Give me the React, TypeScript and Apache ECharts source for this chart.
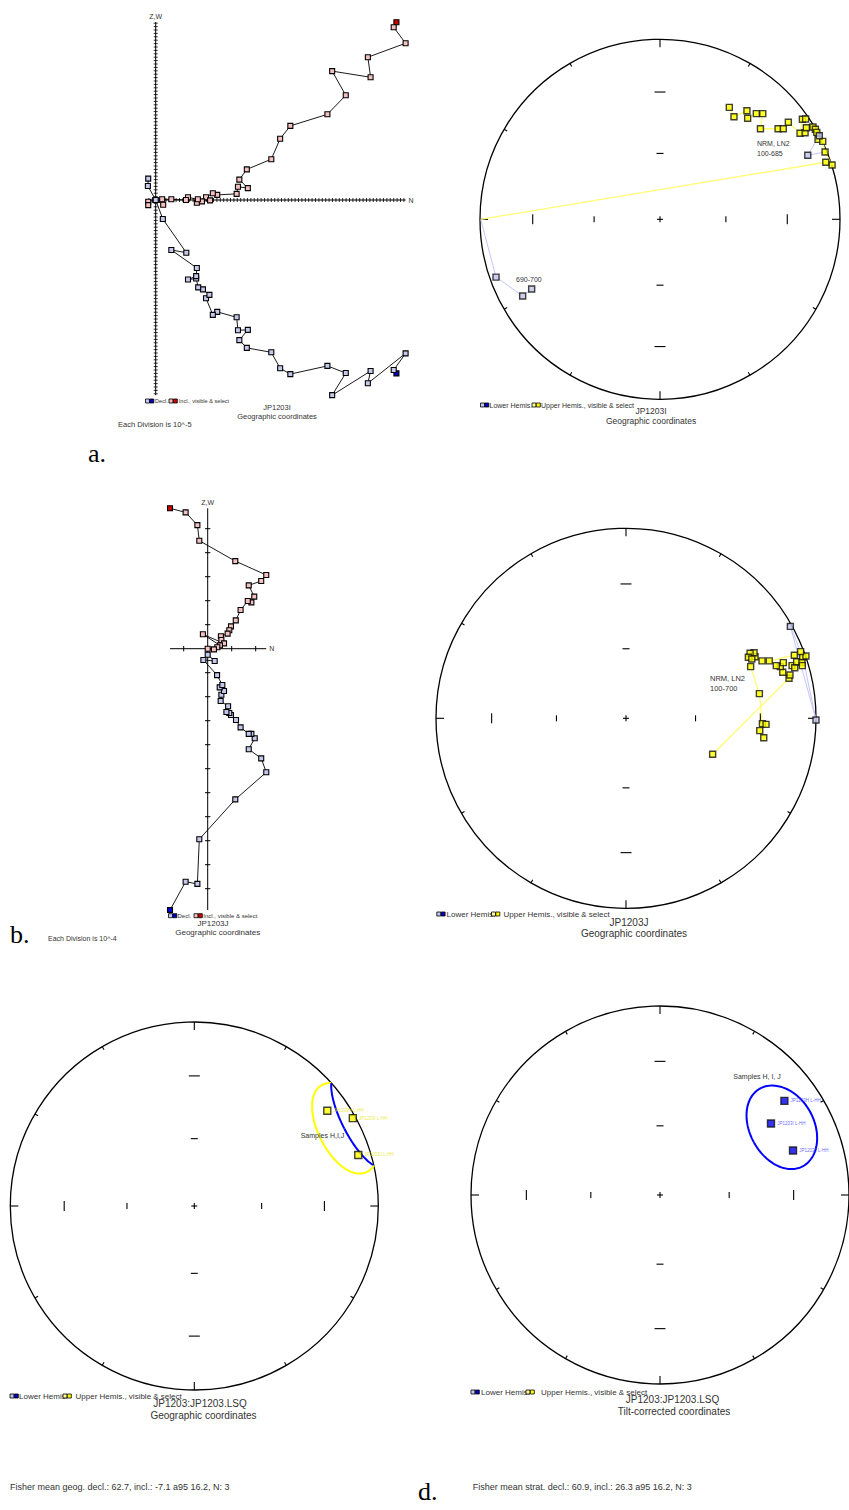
import React, { useEffect, useRef } from "react";
import * as echarts from "echarts";

// ---------- Panel a: Zijderveld (units = divisions of 1e-5) ----------
const ZA_INCL: number[][] = [
  [70.8, 52.3], [70.0, 50.8], [73.5, 46.1], [62.4, 42.0], [63.2, 36.1], [51.9, 37.9],
  [55.9, 30.8], [50.5, 25.2], [39.6, 21.8], [36.6, 18.0], [34.0, 12.0], [26.8, 9.0],
  [24.6, 6.0], [27.1, 3.5], [24.2, 3.9], [23.8, 1.8], [18.1, 1.5], [16.8, 2.0],
  [14.8, 0.8], [16.0, -0.1], [13.6, -0.4], [12.1, -0.8], [12.4, 0.2], [9.5, 0.8],
  [8.9, 0.0], [4.6, 0.2], [1.9, 0.2], [2.2, -1.4], [-0.1, 0.0], [-2.2, -0.5], [-2.2, -1.5],
];
const ZA_DECL: number[][] = [
  [70.8, -51.0], [70.0, -50.0], [73.5, -45.1], [62.4, -53.9], [63.2, -50.3], [51.9, -57.4],
  [55.9, -50.9], [50.5, -48.8], [39.6, -51.2], [36.6, -49.5], [34.0, -44.8], [26.8, -43.5],
  [24.6, -41.2], [27.1, -38.2], [24.2, -38.3], [23.8, -34.5], [18.1, -32.9], [16.8, -33.8],
  [14.8, -28.9], [15.8, -27.9], [13.9, -26.3], [12.5, -25.7], [11.9, -23.1], [9.5, -23.4],
  [11.9, -22.4], [12.1, -20.0], [4.6, -14.7], [9.0, -15.5], [2.1, -5.6], [0.0, 0.0],
  [-2.3, 4.1], [-2.2, 6.3],
];

// ---------- Panel b: Zijderveld (units = divisions of 1e-4) ----------
const ZB_INCL: number[][] = [
  [-1.57, 5.85], [-0.92, 5.68], [-0.43, 5.15], [-0.35, 4.5], [1.15, 3.65], [2.44, 3.07],
  [2.23, 2.82], [1.71, 2.64], [1.94, 2.17], [1.82, 1.93], [1.67, 1.99], [1.37, 1.61],
  [1.17, 1.18], [0.97, 0.93], [0.9, 0.77], [0.83, 0.63], [0.55, 0.52], [0.57, 0.36],
  [0.68, 0.22], [-0.2, 0.6], [0.51, 0.14], [0.4, 0.06], [0.26, -0.03], [0, 0],
];
const ZB_DECL: number[][] = [
  [-1.57, -10.89], [-0.92, -9.71], [-0.43, -9.8], [-0.35, -7.94], [1.15, -6.28], [2.44, -5.15],
  [2.23, -4.57], [1.71, -4.19], [1.96, -3.73], [1.82, -3.55], [1.71, -3.55], [1.37, -3.28],
  [1.18, -2.97], [0.97, -2.76], [0.9, -2.68], [0.78, -2.64], [0.85, -2.4], [0.54, -2.18],
  [0.57, -1.92], [0.68, -1.76], [0.5, -1.61], [0.61, -1.51], [0.39, -1.1], [-0.18, -0.47],
  [0.29, -0.51], [0, -0.25],
];

// ---------- Panel a: stereonet (equal-area east/north, net radius = 1) ----------
const SA_UP: number[][] = [
  [0.385, 0.622], [0.411, 0.57], [0.483, 0.603], [0.487, 0.561], [0.535, 0.587], [0.571, 0.587],
  [0.558, 0.503], [0.656, 0.503], [0.685, 0.503], [0.713, 0.539], [0.778, 0.478], [0.791, 0.556],
  [0.809, 0.557], [0.806, 0.481], [0.813, 0.509], [0.85, 0.513], [0.863, 0.5], [0.871, 0.483],
  [0.878, 0.444], [0.904, 0.433], [0.917, 0.374], [0.956, 0.302], [0.921, 0.317],
];
const SA_LO_E: number[][] = [[0.885, 0.464], [0.821, 0.356]];
const SA_LO_W: number[][] = [[-0.911, -0.321], [-0.763, -0.426], [-0.713, -0.387]];
const SA_RIM: number[] = [-0.996, 0.0];

// ---------- Panel b: stereonet ----------
const SB_UP: number[][] = [
  [0.456, -0.189], [0.858, 0.211], [0.863, 0.228], [0.825, 0.242], [0.812, 0.272], [0.791, 0.277],
  [0.828, 0.293], [0.874, 0.277], [0.888, 0.266], [0.898, 0.298], [0.926, 0.295], [0.928, 0.277],
  [0.93, 0.324], [0.947, 0.328], [0.919, 0.351], [0.886, 0.332], [0.754, 0.302], [0.716, 0.302],
  [0.679, 0.324], [0.674, 0.345], [0.653, 0.342], [0.644, 0.321], [0.662, 0.312], [0.656, 0.272],
  [0.702, 0.13], [0.718, -0.028], [0.737, -0.032], [0.704, -0.065], [0.725, -0.102],
];
const SB_LO: number[][] = [[0.865, 0.484], [1.0, -0.009]];

// ---------- Panels c, d: sample mean directions ----------
const SAMPLE_NAMES = ["JP1203H L-HH", "JP1203I L-HH", "JP1203J L-HH"];
const C_DEC = [54.4, 61.0, 72.7];
const C_INC = [-12.1, -1.7, -7.4];
const D_DEC = [52.9, 57.2, 71.5];
const D_INC = [18.6, 30.8, 26.7];
const C_MEAN = { dec: 62.7, inc: -7.1, a95: 16.2, n: 3 };
const D_MEAN = { dec: 60.9, inc: 26.3, a95: 16.2, n: 3 };

// net decorations
const RIM_TICK_AZ = [0, 30, 60, 90, 120, 150, 180, 210, 240, 270, 300, 330];
const NET_TICK_INC = [60, 30];

const FONT = '"Liberation Sans", Arial, sans-serif';
const SERIF = '"Liberation Serif", "Times New Roman", serif';

const rad = (d: number) => (d * Math.PI) / 180;
const deg = (r: number) => (r * 180) / Math.PI;

function eqArea(dec: number, inc: number): number[] {
  const th = rad(90 - Math.abs(inc));
  const r = Math.SQRT2 * Math.sin(th / 2);
  const d = rad(dec);
  return [r * Math.sin(d), r * Math.cos(d)];
}

function txtStyle(text: string, size: number, fill: string, align: string, family = FONT) {
  return {
    text, fill, fontSize: size, fontFamily: family,
    textAlign: align, align, textVerticalAlign: "middle", verticalAlign: "middle",
  };
}

function frameRender(_p: any, api: any) {
  const c = api.coord([0, 0]);
  const R = api.size([1, 1])[0];
  const st = { stroke: "#000", lineWidth: 1.1 };
  const ch: any[] = [
    { type: "circle", shape: { cx: c[0], cy: c[1], r: R }, style: { fill: "none", stroke: "#000", lineWidth: 1.3 } },
  ];
  RIM_TICK_AZ.forEach((az) => {
    const a = rad(az);
    const L = az % 90 === 0 ? 8 : 3.5;
    const sx = Math.sin(a), sy = -Math.cos(a);
    ch.push({ type: "line", shape: { x1: c[0] + sx * R, y1: c[1] + sy * R, x2: c[0] + sx * (R - L), y2: c[1] + sy * (R - L) }, style: st });
  });
  NET_TICK_INC.forEach((inc) => {
    const r = eqArea(90, inc)[0] * R;
    const h = inc <= 30 ? 5 : 3;
    [-1, 1].forEach((s) => {
      ch.push({ type: "line", shape: { x1: c[0] + s * r, y1: c[1] - h, x2: c[0] + s * r, y2: c[1] + h }, style: st });
      ch.push({ type: "line", shape: { x1: c[0] - h - 0.5, y1: c[1] + s * r, x2: c[0] + h + 0.5, y2: c[1] + s * r }, style: st });
    });
  });
  ch.push({ type: "line", shape: { x1: c[0] - 3, y1: c[1], x2: c[0] + 3, y2: c[1] }, style: st });
  ch.push({ type: "line", shape: { x1: c[0], y1: c[1] - 3, x2: c[0], y2: c[1] + 3 }, style: st });
  return { type: "group", children: ch };
}

function zijAxes(all: number[][], tick: number, lw: number) {
  const xs = all.map((p) => p[0]);
  const ys = all.map((p) => p[1]);
  const xmin = Math.min(...xs, 0), xmax = Math.max(...xs);
  const ymin = Math.min(...ys, 0), ymax = Math.max(...ys);
  return (_p: any, api: any) => {
    const L = api.coord([xmin, 0]), Rt = api.coord([xmax, 0]);
    const T = api.coord([0, ymax]), B = api.coord([0, ymin]);
    const st = { stroke: "#000", lineWidth: 1 };
    const ts = { stroke: "#000", lineWidth: lw };
    const ch: any[] = [
      { type: "line", shape: { x1: L[0], y1: L[1], x2: Rt[0], y2: Rt[1] }, style: st },
      { type: "line", shape: { x1: T[0], y1: T[1], x2: B[0], y2: B[1] }, style: st },
    ];
    for (let k = Math.ceil(xmin); k <= Math.floor(xmax); k++) {
      if (k === 0) continue;
      const p = api.coord([k, 0]);
      ch.push({ type: "line", shape: { x1: p[0], y1: p[1] - tick, x2: p[0], y2: p[1] + tick }, style: ts });
    }
    for (let k = Math.ceil(ymin); k <= Math.floor(ymax); k++) {
      if (k === 0) continue;
      const p = api.coord([0, k]);
      ch.push({ type: "line", shape: { x1: p[0] - tick, y1: p[1], x2: p[0] + tick, y2: p[1] }, style: ts });
    }
    ch.push({ type: "text", x: Rt[0] + 3, y: Rt[1], style: txtStyle("N", 7, "#333", "left") });
    ch.push({ type: "text", x: T[0], y: T[1] - 6, style: txtStyle("Z,W", 7, "#333", "center") });
    return { type: "group", children: ch };
  };
}

function coneRender(mean: { dec: number; inc: number; a95: number }) {
  return (_p: any, api: any) => {
    const D = rad(mean.dec), I = rad(mean.inc), A = rad(mean.a95);
    const m = [Math.cos(I) * Math.cos(D), Math.cos(I) * Math.sin(D), Math.sin(I)];
    const u = [-Math.sin(I) * Math.cos(D), -Math.sin(I) * Math.sin(D), Math.cos(I)];
    const w = [-Math.sin(D), Math.cos(D), 0];
    const vecs: number[][] = [];
    for (let t = 0; t <= 360; t += 2) {
      const tt = rad(t);
      vecs.push([0, 1, 2].map((k) => Math.cos(A) * m[k] + Math.sin(A) * (Math.cos(tt) * u[k] + Math.sin(tt) * w[k])));
    }
    const toScreen = (v: number[]) => {
      const n = Math.hypot(v[0], v[1], v[2]);
      const inc = deg(Math.asin(Math.max(-1, Math.min(1, v[2] / n))));
      const dec = deg(Math.atan2(v[1], v[0]));
      return api.coord(eqArea(dec, inc));
    };
    const segs: { up: boolean; pts: number[][] }[] = [];
    let cur = { up: vecs[0][2] < 0, pts: [toScreen(vecs[0])] };
    for (let i = 1; i < vecs.length; i++) {
      const v0 = vecs[i - 1], v1 = vecs[i];
      const up = v1[2] < 0;
      if (up !== cur.up) {
        const f = v0[2] / (v0[2] - v1[2]);
        const vc = [v0[0] + f * (v1[0] - v0[0]), v0[1] + f * (v1[1] - v0[1]), 0];
        const pc = toScreen(vc);
        cur.pts.push(pc);
        segs.push(cur);
        cur = { up, pts: [pc] };
      }
      cur.pts.push(toScreen(v1));
    }
    segs.push(cur);
    return {
      type: "group",
      children: segs.map((s) => ({
        type: "polyline",
        shape: { points: s.pts },
        style: { fill: "none", stroke: s.up ? "#ffff00" : "#0000ff", lineWidth: 2 },
      })),
    };
  };
}

function zijLine(data: number[][], fill: string, firstFill: string, idx: number) {
  return {
    type: "line", xAxisIndex: idx, yAxisIndex: idx, z: 3, clip: false, silent: true,
    data: data.map((p, i) => (i === 0 ? { value: p, itemStyle: { color: firstFill } } : p)),
    symbol: "rect", symbolSize: 5, showSymbol: true,
    lineStyle: { color: "#000", width: 0.9 },
    itemStyle: { color: fill, borderColor: "#000", borderWidth: 1.1 },
  };
}

function netPath(data: number[][], color: string, width: number, idx: number) {
  return {
    type: "line", xAxisIndex: idx, yAxisIndex: idx, z: 2, clip: false, silent: true,
    data, showSymbol: false, symbol: "none",
    lineStyle: { color, width },
  };
}

function netPts(data: any[], fill: string, idx: number, size: number, labelColor?: string) {
  return {
    type: "scatter", xAxisIndex: idx, yAxisIndex: idx, z: 4, clip: false, silent: true,
    data, symbol: "rect", symbolSize: size,
    itemStyle: { color: fill, borderColor: "#111", borderWidth: 1.4 },
    label: labelColor
      ? { show: true, position: "right", distance: 2, formatter: "{b}", fontSize: 4.5, color: labelColor, fontFamily: FONT }
      : { show: false },
  };
}

function frame(idx: number) {
  return { type: "custom", xAxisIndex: idx, yAxisIndex: idx, z: 1, silent: true, clip: false, data: [[0, 0]], renderItem: frameRender };
}

function sq(x: number, y: number, fill: string, s = 4) {
  return { type: "rect", shape: { x, y, width: s, height: s }, style: { fill, stroke: "#000", lineWidth: 0.8 }, z: 100 };
}
function t(x: number, y: number, text: string, size: number, align = "left", fill = "#333", family = FONT) {
  return { type: "text", x, y, z: 100, style: txtStyle(text, size, fill, align, family) };
}

const LB = "#c4c8ec", DB = "#0000c8", LY = "#ffff99", YY = "#ffff00", LP = "#f4c0c0", RP = "#cc0000";

export default function App() {
  const ref = useRef<HTMLDivElement>(null);
  useEffect(() => {
    document.body.style.margin = "0";
    if (!ref.current) return;
    const chart = echarts.init(ref.current, undefined, { renderer: "svg" });
    const grids = [
      { left: 138.7, top: 9.6, width: 275.4, height: 394.4 },
      { left: 480, top: 39.3, width: 360, height: 360 },
      { left: 159.7, top: 480.7, width: 120, height: 456 },
      { left: 436, top: 528.3, width: 380, height: 380 },
      { left: 10.3, top: 1022, width: 368, height: 368 },
      { left: 471, top: 1006, width: 378, height: 378 },
    ];
    const xr = [[-5, 76], [-1, 1], [-2, 3], [-1, 1], [-1, 1], [-1, 1]];
    const yr = [[-60, 56], [-1, 1], [-12, 7], [-1, 1], [-1, 1], [-1, 1]];
    const cPts = C_DEC.map((d, i) => ({ name: SAMPLE_NAMES[i], value: eqArea(d, C_INC[i]) }));
    const dPts = D_DEC.map((d, i) => ({ name: SAMPLE_NAMES[i], value: eqArea(d, D_INC[i]) }));

    const option: any = {
      animation: false,
      grid: grids.map((g) => ({ ...g, containLabel: false, show: false })),
      xAxis: xr.map((r, i) => ({ type: "value", gridIndex: i, min: r[0], max: r[1], show: false })),
      yAxis: yr.map((r, i) => ({ type: "value", gridIndex: i, min: r[0], max: r[1], show: false })),
      series: [
        // Zijderveld a
        { type: "custom", xAxisIndex: 0, yAxisIndex: 0, z: 1, silent: true, clip: false, data: [[0, 0]], renderItem: zijAxes([...ZA_INCL, ...ZA_DECL], 2, 0.8) },
        zijLine(ZA_INCL, LP, RP, 0),
        zijLine(ZA_DECL, LB, DB, 0),
        // Stereonet a
        frame(1),
        netPath([...SA_UP, SA_RIM], "#ffff70", 1.3, 1),
        netPath([SA_UP[17], ...SA_LO_E, SA_UP[20]], "#c4c4fa", 1, 1),
        netPath([SA_RIM, ...SA_LO_W], "#c4c4fa", 1, 1),
        netPts(SA_UP, YY, 1, 6),
        netPts([...SA_LO_E, ...SA_LO_W], LB, 1, 6),
        // Zijderveld b
        { type: "custom", xAxisIndex: 2, yAxisIndex: 2, z: 1, silent: true, clip: false, data: [[0, 0]], renderItem: zijAxes([...ZB_INCL, ...ZB_DECL], 2.7, 1) },
        zijLine(ZB_INCL, LP, RP, 2),
        zijLine(ZB_DECL, LB, DB, 2),
        // Stereonet b
        frame(3),
        netPath(SB_UP, "#ffff70", 1.3, 3),
        netPath([SB_UP[14], SB_LO[0], SB_LO[1], SB_UP[12]], "#c4c4fa", 1, 3),
        netPts(SB_UP, YY, 3, 6),
        netPts(SB_LO, LB, 3, 6),
        // Stereonet c
        frame(4),
        { type: "custom", xAxisIndex: 4, yAxisIndex: 4, z: 2, silent: true, clip: false, data: [[0, 0]], renderItem: coneRender(C_MEAN) },
        netPts(cPts, YY, 4, 7, "#e6e600"),
        // Stereonet d
        frame(5),
        { type: "custom", xAxisIndex: 5, yAxisIndex: 5, z: 2, silent: true, clip: false, data: [[0, 0]], renderItem: coneRender(D_MEAN) },
        netPts(dPts, "#0000ee", 5, 7, "#4040ff"),
      ],
      graphic: {
        elements: [
          // panel a zijderveld texts
          sq(145.5, 399, LB), sq(149.8, 399, DB), t(155, 401, "Decl.", 5.6),
          sq(169, 399, LP), sq(173.3, 399, RP), t(178.8, 401, "Incl., visible & select", 5.6),
          t(277, 407.5, "JP1203I", 7.5, "center"),
          t(277, 416.5, "Geographic coordinates", 7.5, "center"),
          t(118, 424, "Each Division is 10^-5", 7.5),
          // panel a stereonet texts
          t(757, 143.5, "NRM, LN2", 7), t(757, 153.5, "100-685", 7), t(516, 279, "690-700", 7),
          sq(480.5, 403, LB), sq(484.8, 403, DB), t(489.5, 405, "Lower Hemis.", 7),
          sq(532, 403, LY), sq(536.3, 403, YY), t(541, 405, "Upper Hemis., visible & select", 7),
          t(651, 411, "JP1203I", 8.5, "center"),
          t(651, 421, "Geographic coordinates", 8.5, "center"),
          t(88, 453, "a.", 26, "left", "#000", SERIF),
          // panel b zijderveld texts
          sq(168.5, 913.7, LB), sq(172.8, 913.7, DB), t(177.5, 915.7, "Decl.", 6),
          sq(194, 913.7, LP), sq(198.3, 913.7, RP), t(203.3, 915.7, "Incl., visible & select", 6),
          t(213, 923, "JP1203J", 8, "center"),
          t(217.7, 932, "Geographic coordinates", 8, "center"),
          t(48, 938, "Each Division is 10^-4", 7),
          t(10, 934, "b.", 26, "left", "#000", SERIF),
          // panel b stereonet texts
          t(710, 678.3, "NRM, LN2", 7.5), t(710, 688.3, "100-700", 7.5),
          sq(436.8, 912, LB), sq(441.1, 912, DB), t(446.5, 914, "Lower Hemis.", 8),
          sq(491.5, 912, LY), sq(495.8, 912, YY), t(503.5, 914, "Upper Hemis., visible & select", 8),
          t(629, 922.5, "JP1203J", 10, "center"),
          t(634, 933, "Geographic coordinates", 10, "center"),
          // panel c texts
          t(300.7, 1135.3, "Samples H,I,J", 7),
          sq(10, 1394, LB), sq(14.3, 1394, DB), t(19, 1396, "Lower Hemis.", 8),
          sq(63, 1394, LY), sq(67.3, 1394, YY), t(75.5, 1396, "Upper Hemis., visible & select", 8),
          t(200, 1403.5, "JP1203:JP1203.LSQ", 10, "center"),
          t(203.5, 1415.5, "Geographic coordinates", 10, "center"),
          t(10, 1487, `Fisher mean geog. decl.: ${C_MEAN.dec}, incl.: ${C_MEAN.inc} a95 ${C_MEAN.a95}, N: ${C_MEAN.n}`, 9),
          // panel d texts
          t(733.3, 1076.7, "Samples H, I, J", 7),
          sq(471, 1390, LB), sq(475.3, 1390, DB), t(481, 1392, "Lower Hemis.", 8),
          sq(526, 1390, LY), sq(530.3, 1390, YY), t(541, 1392, "Upper Hemis., visible & select", 8),
          t(672.5, 1399.5, "JP1203:JP1203.LSQ", 10, "center"),
          t(674, 1411, "Tilt-corrected coordinates", 10, "center"),
          t(472.7, 1487, `Fisher mean strat. decl.: ${D_MEAN.dec}, incl.: ${D_MEAN.inc} a95 ${D_MEAN.a95}, N: ${D_MEAN.n}`, 9),
          t(418, 1491, "d.", 26, "left", "#000", SERIF),
        ],
      },
    };
    chart.setOption(option);
    return () => chart.dispose();
  }, []);
  return <div ref={ref} style={{ width: 849, height: 1510, background: "#fff" }} />;
}
